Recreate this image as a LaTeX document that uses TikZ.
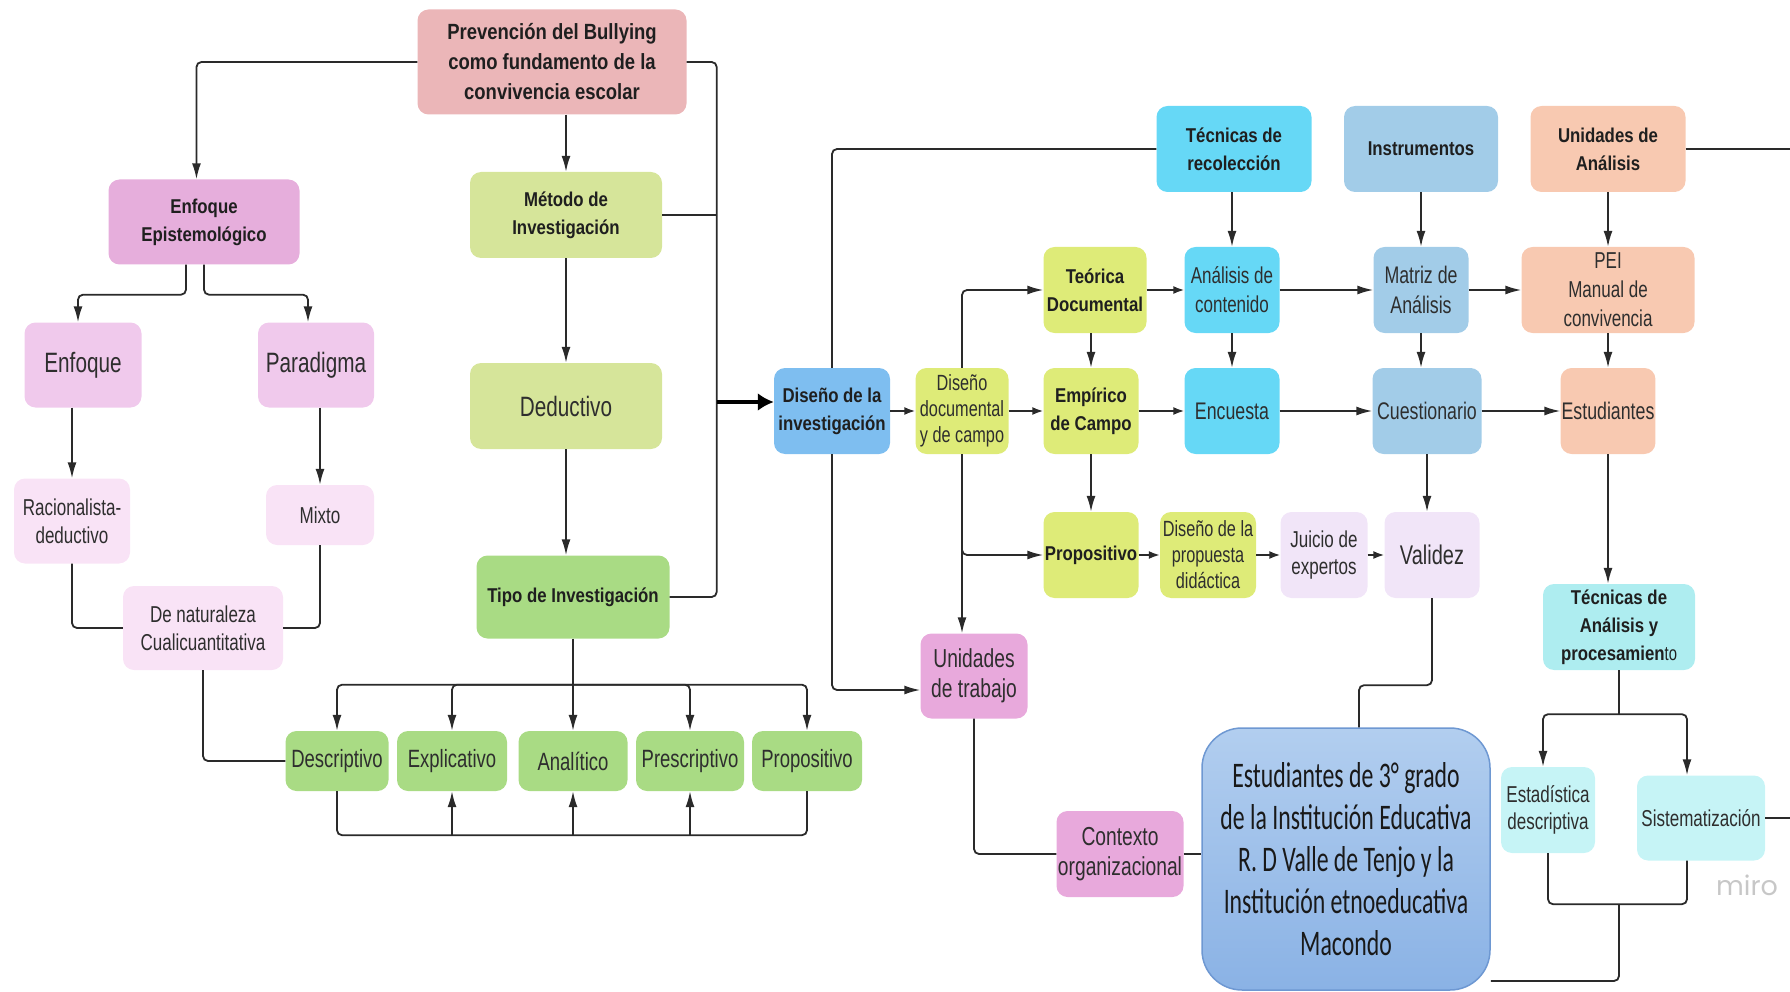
\documentclass[tikz,border=0pt]{standalone}
\usepackage{fontspec}
\newfontfamily\regfont{Liberation Sans}[FakeStretch=0.74]
\newfontfamily\bfont{Liberation Sans}[FakeStretch=0.84]
\newfontfamily\calfont{Carlito}[FakeStretch=0.66]
\newfontfamily\mirofont{Poppins}
\usetikzlibrary{arrows.meta}

\definecolor{cPrev}{HTML}{EBB6B8}
\definecolor{cEpis}{HTML}{E6AEDC}
\definecolor{cEnf}{HTML}{F0C9EC}
\definecolor{cRac}{HTML}{F9E3F6}
\definecolor{cMet}{HTML}{D6E59A}
\definecolor{cTipo}{HTML}{A9DB84}
\definecolor{cDis}{HTML}{7EBEF0}
\definecolor{cLima}{HTML}{DEEB78}
\definecolor{cCian}{HTML}{66D8F6}
\definecolor{cAcero}{HTML}{A2CCE8}
\definecolor{cMelo}{HTML}{F8C9B1}
\definecolor{cLila}{HTML}{F1E5F8}
\definecolor{cTec}{HTML}{AEEDF0}
\definecolor{cTecb}{HTML}{C6F4F6}
\definecolor{cUni}{HTML}{E8A9DC}
\definecolor{cBigA}{HTML}{B2CEEF}
\definecolor{cBigB}{HTML}{8AB2E5}
\definecolor{cBigL}{HTML}{6E98D2}
\definecolor{lin}{HTML}{2A2A2A}
\definecolor{txt}{HTML}{2E2E2E}

\begin{document}
\begin{tikzpicture}
[x=1pt,y=-1pt,%
  box/.style={rounded corners=11pt,align=center,inner sep=1pt,text=txt},%
  sz/.style 2 args={minimum width=#1pt,minimum height=#2pt},%
  bt/.style={font=\bfont\bfseries\fontsize{20}{28}\selectfont,text=black!88},%
  rt/.style={font=\regfont\fontsize{24}{29}\selectfont},%
  lt/.style={font=\regfont\fontsize{28}{31}\selectfont},%
  st/.style={font=\regfont\fontsize{22}{26}\selectfont},%
  con/.style={draw=lin,line width=1.8pt,rounded corners=5pt},%
  arr/.style={con,-{Latex[length=16pt,width=9pt]}},%
  sarr/.style={con,-{Latex[length=11pt,width=8pt]}},%
  fat/.style={draw=black,line width=4pt,-{Latex[length=16pt,width=18pt]}}]
\useasboundingbox (0,0) rectangle (1790,992);
\node[box,sz={269}{105},fill=cPrev,font=\bfont\bfseries\fontsize{22}{30}\selectfont,text=black!88] (prev) at (552,62)
  {Prevención del Bullying\\como fundamento de la\\convivencia escolar};
\node[box,bt,sz={191}{85},fill=cEpis] (epis) at (204,222) {Enfoque\\Epistemológico};
\node[box,lt,sz={117}{85},fill=cEnf] (enf) at (83,365) {Enfoque};
\node[box,lt,sz={116}{85},fill=cEnf] (para) at (316,365) {Paradigma};
\node[box,rt,sz={116}{85},fill=cRac,font=\regfont\fontsize{23}{28}\selectfont] (racio) at (72,521) {Racionalista-\\deductivo};
\node[box,rt,sz={108}{60},fill=cRac,font=\regfont\fontsize{23}{28}\selectfont] (mixto) at (320,515) {Mixto};
\node[box,rt,sz={160}{84},fill=cRac,font=\regfont\fontsize{23}{28}\selectfont] (natur) at (203,628) {De naturaleza\\Cualicuantitativa};
\node[box,bt,sz={192}{86},fill=cMet] (metodo) at (566,215) {Método de\\Investigación};
\node[box,lt,sz={192}{86},fill=cMet] (deduc) at (566,406) {Deductivo};
\node[box,bt,sz={193}{83},fill=cTipo] (tipo) at (573,597) {Tipo de Investigación};
\node[box,rt,sz={103}{60},fill=cTipo,font=\regfont\fontsize{25}{28}\selectfont] (desc) at (337,761) {Descriptivo};
\node[box,rt,sz={110}{60},fill=cTipo,font=\regfont\fontsize{25}{28}\selectfont] (expl) at (452,761) {Explicativo};
\node[box,rt,sz={109}{60},fill=cTipo,font=\regfont\fontsize{25}{28}\selectfont] (anal) at (573,761) {Analítico};
\node[box,rt,sz={108}{60},fill=cTipo,font=\regfont\fontsize{25}{28}\selectfont] (presc) at (690,761) {Prescriptivo};
\node[box,rt,sz={110}{60},fill=cTipo,font=\regfont\fontsize{25}{28}\selectfont] (propo) at (807,761) {Propositivo};
\node[box,bt,sz={116}{86},fill=cDis] (diseno) at (832,411) {Diseño de la\\investigación};
\node[box,st,sz={93}{86},fill=cLima] (disdoc) at (962,411) {Diseño\\documental\\y de campo};
\node[box,bt,sz={103}{86},fill=cLima] (teor) at (1095,290) {Teórica\\Documental};
\node[box,bt,sz={95}{86},fill=cLima] (empi) at (1091,411) {Empírico\\de Campo};
\node[box,bt,sz={95}{86},fill=cLima] (propd) at (1091,555) {Propositivo};
\node[box,st,sz={96}{86},fill=cLima] (dprop) at (1208,555) {Diseño de la\\propuesta\\didáctica};
\node[box,st,sz={87}{86},fill=cLila,font=\regfont\fontsize{23}{27}\selectfont] (juicio) at (1324,555) {Juicio de\\expertos};
\node[box,lt,sz={95}{86},fill=cLila,font=\regfont\fontsize{27}{30}\selectfont] (valid) at (1432,555) {Validez};
\node[box,bt,sz={155}{86},fill=cCian] (tecrec) at (1234,149) {Técnicas de\\recolección};
\node[box,bt,sz={154}{86},fill=cAcero] (instr) at (1421,149) {Instrumentos};
\node[box,bt,sz={155}{86},fill=cMelo] (unian) at (1608,149) {Unidades de\\Análisis};
\node[box,rt,sz={95}{86},fill=cCian,font=\regfont\fontsize{23}{29}\selectfont] (ancont) at (1232,290) {Análisis de\\contenido};
\node[box,rt,sz={95}{86},fill=cCian] (encu) at (1232,411) {Encuesta};
\node[box,rt,sz={95}{86},fill=cAcero,font=\regfont\fontsize{24}{30}\selectfont] (matriz) at (1421,290) {Matriz de\\Análisis};
\node[box,rt,sz={109}{86},fill=cAcero] (cuest) at (1427,411) {Cuestionario};
\node[box,rt,sz={173}{86},fill=cMelo,font=\regfont\fontsize{23}{29}\selectfont] (pei) at (1608,290) {PEI\\Manual de\\convivencia};
\node[box,rt,sz={94}{86},fill=cMelo] (estud) at (1608,411) {Estudiantes};
\node[box,bt,sz={152}{86},fill=cTec] (tecan) at (1619,627) {Técnicas de\\Análisis y\\procesamien{\regfont\mdseries to}};
\node[box,rt,sz={94}{86},fill=cTecb,font=\regfont\fontsize{23}{27}\selectfont] (estad) at (1548,810) {Estadística\\descriptiva};
\node[box,rt,sz={128}{85},fill=cTecb,font=\regfont\fontsize{23}{27}\selectfont] (siste) at (1701,818) {Sistematización};
\node[box,rt,sz={107}{85},fill=cUni,font=\regfont\fontsize{26}{30}\selectfont] (unitr) at (974,676) {Unidades\\de trabajo};
\node[box,rt,sz={127}{86},fill=cUni,font=\regfont\fontsize{26}{30}\selectfont] (contx) at (1120,854) {Contexto\\organizacional};
\node[box,rounded corners=40pt,sz={288}{262},draw=cBigL,line width=1.5pt,top color=cBigA,bottom color=cBigB,
  font=\calfont\fontsize{36}{42}\selectfont,text=black!90] (big) at (1346,859)
  {Estudiantes de 3° grado\\de la Institución Educativa\\R. D Valle de Tenjo y la\\Institución etnoeducativa\\Macondo};
\node[text=black!22,font=\mirofont\fontsize{27}{27}\selectfont] (miro) at (1747,885) {miro};
\coordinate (re1) at (1790,149);
\coordinate (re2) at (1790,818);
\draw[arr] (prev.west) -| (epis.100);
\draw[arr] (metodo.north |- prev.south) -- (metodo.north);
\draw[con] (prev.east) -- ++(30,0) coordinate (pr) |- (tipo.east);
\draw[con] (metodo.east) -- (metodo.east -| pr);
\coordinate (jn) at (717,402);
\draw[fat] (jn) -- (jn -| diseno.west);
\draw[arr] (metodo) -- (deduc);
\draw[arr] (deduc) -- (tipo.north -| deduc);
\draw[arr] ([xshift=-18pt]epis.south) -- ++(0,30) -| ([xshift=-5pt]enf.north);
\draw[arr] (epis.south) -- ++(0,30) -| ([xshift=-8pt]para.north);
\draw[arr] (racio.north |- enf.south) -- (racio.north);
\draw[arr] (mixto.north |- para.south) -- (mixto.north);
\draw[con] (racio.south) |- (natur.west);
\draw[con] (mixto.south) |- (natur.east);
\draw[con] (natur.south) |- (desc.west);
\draw[con] (tipo.south) -- ++(0,46) coordinate (tb);
\foreach \n in {desc,expl,anal,presc,propo}
  \draw[arr] (tb) -| (\n.north);
\draw[con] (desc.south) -- ++(0,44) coordinate (bb) -| (propo.south);
\foreach \n in {expl,anal,presc}
  \draw[arr] (\n.south |- bb) -- (\n.south);
\draw[con] (diseno.north) |- (tecrec.west);
\draw[con] (unian.east) -- (re1);
\draw[sarr] (diseno) -- (disdoc);
\draw[arr] (diseno.south) |- ([yshift=-14pt]unitr.west);
\draw[arr] (disdoc.north) |- (teor.west);
\draw[sarr] (disdoc) -- (empi);
\draw[arr] (disdoc.south) |- (propd.west);
\draw[arr] (disdoc.south) -- (disdoc.south |- unitr.north);
\draw[sarr] (teor) -- (ancont);
\draw[arr] (ancont) -- (matriz);
\draw[arr] (matriz) -- (pei);
\draw[arr] (empi.north |- teor.south) -- (empi.north);
\draw[arr] (empi) -- (propd);
\draw[arr] (ancont.north |- tecrec.south) -- (ancont.north);
\draw[arr] (ancont) -- (encu);
\draw[arr] (instr) -- (matriz);
\draw[arr] (matriz.south) -- (matriz.south |- cuest.north);
\draw[arr] (cuest.south) -- (cuest.south |- valid.north);
\draw[arr] (unian) -- (pei);
\draw[arr] (pei) -- (estud.north -| pei);
\draw[arr] (estud.south) -- (estud.south |- tecan.north);
\draw[sarr] (empi) -- (encu);
\draw[arr] (encu) -- (encu -| cuest.west);
\draw[arr] (cuest) -- (estud);
\draw[sarr] (propd) -- (dprop);
\draw[sarr] (dprop) -- (juicio);
\draw[sarr] (juicio) -- (valid);
\draw[con] (valid.south) -- ++(0,87) -| ([xshift=13pt]big.north);
\draw[con] (unitr.south) |- (contx.west);
\draw[con] (contx.east) -- (contx.east -| big.west);
\draw[con] (tecan.south) -- ++(0,44) coordinate (ta);
\draw[arr] (ta) -| ([xshift=-5pt]estad.north);
\draw[arr] (ta) -| ([xshift=-14pt]siste.north);
\draw[con] (estad.south) -- ++(0,51) coordinate (sb) -| ([xshift=-14pt]siste.south);
\draw[con] (sb -| ta) |- ([yshift=-122pt]big.east);
\draw[con] (siste.east) -- (re2);
\end{tikzpicture}
\end{document}
